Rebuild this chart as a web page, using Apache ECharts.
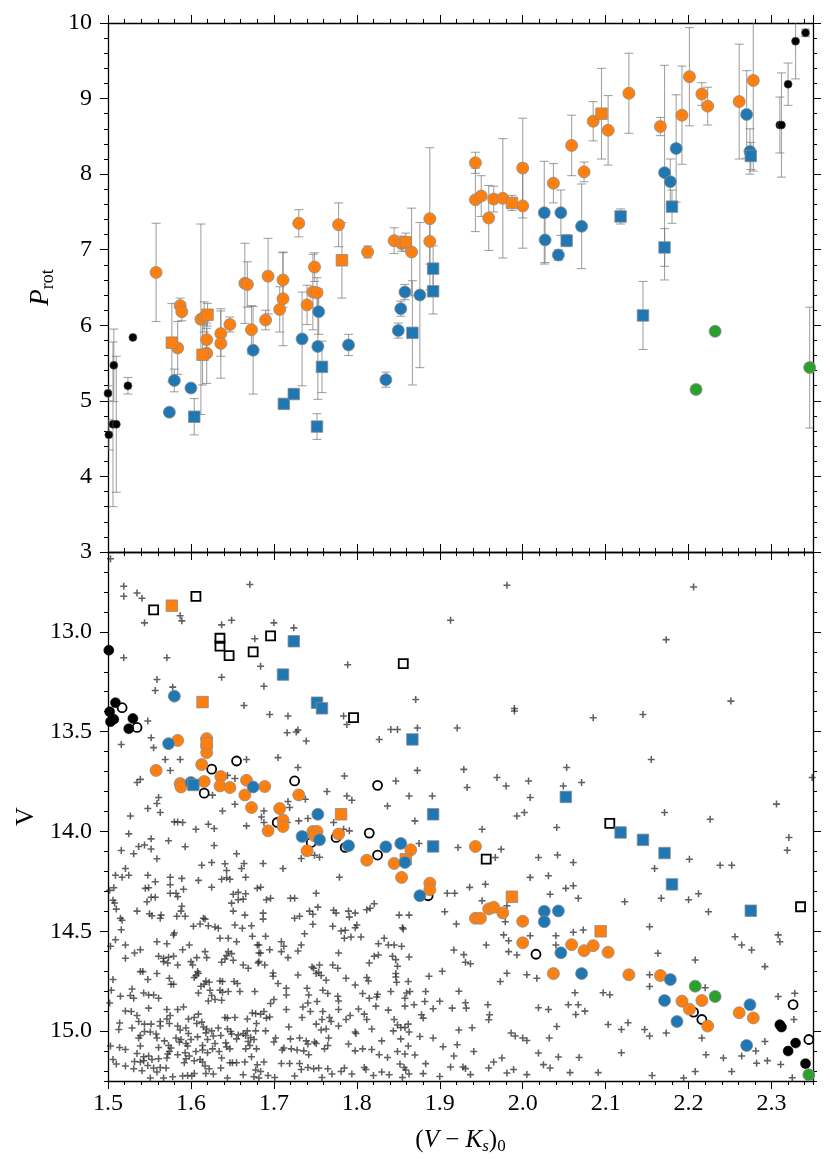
<!DOCTYPE html>
<html>
<head>
<meta charset="utf-8">
<script src="https://cdn.jsdelivr.net/npm/echarts@6/dist/echarts.min.js"></script>
<style>
html, body { margin: 0; padding: 0; background: #fff; }
#chart { width: 830px; height: 1163px; }
</style>
</head>
<body>
<div id="chart"></div>
<script>
// top panel: [V-Ks, Prot, error]
var topOrangeCirc = [
    [1.558,6.70,0.65],[1.584,5.70,0.35],[1.587,6.26,0.10],[1.589,6.18,0.12],[1.612,6.08,1.26],
    [1.616,6.11,0.20],[1.619,5.63,0.40],[1.619,5.81,0.15],[1.636,5.89,0.30],[1.636,5.76,0.46],
    [1.647,6.01,0.10],[1.665,6.555,0.53],[1.668,6.54,0.30],[1.673,5.94,0.32],[1.690,6.07,0.13],
    [1.693,6.65,0.50],[1.707,6.21,0.30],[1.711,6.35,0.62],[1.711,6.60,0.36],[1.730,7.35,0.18],
    [1.740,6.27,0.26],[1.747,6.44,0.50],[1.752,6.43,0.20],[1.749,6.77,0.19],[1.778,7.33,0.29],
    [1.813,6.97,0.08],[1.845,7.12,0.17],[1.854,7.08,0.10],[1.866,6.97,0.58],[1.888,7.41,0.94],
    [1.888,7.11,0.30],[1.943,8.15,0.14],[1.943,7.66,0.42],[1.950,7.71,0.27],[1.959,7.42,0.43],
    [1.965,7.67,0.17],[1.976,7.68,0.79],[2.000,8.08,0.66],[2.000,7.58,0.56],[2.037,7.88,0.26],
    [2.059,8.38,0.40],[2.074,8.03,0.13],[2.085,8.70,0.26],[2.103,8.58,0.46],[2.128,9.07,0.53],
    [2.166,8.63,0.12],[2.192,8.78,0.65],[2.201,9.29,0.65],[2.216,9.06,0.15],[2.223,8.90,0.25],
    [2.261,8.96,0.76],[2.278,9.24,1.20]
];
var topOrangeSq = [
    [1.577,5.77,0.52],[1.620,6.14,0.15],[1.614,5.61,0.40],[1.782,6.86,0.50],[1.859,7.10,0.12],
    [1.987,7.62,0.10],[2.095,8.80,0.60]
];
var topBlueCirc = [
    [1.574,4.85,0],[1.580,5.27,0.15],[1.600,5.17,0],[1.675,5.67,0.58],[1.734,5.82,0.62],
    [1.754,6.18,0.30],[1.753,5.72,0.70],[1.790,5.74,0.14],[1.835,5.28,0.10],[1.850,5.93,0.10],
    [1.853,6.22,0.10],[1.858,6.44,0.10],[1.876,6.40,0.96],[2.026,7.49,0.68],[2.027,7.13,0.30],
    [2.046,7.49,0.30],[2.043,6.93,0.07],[2.071,7.31,0.56],[2.171,8.02,1.42],[2.178,7.90,0.30],
    [2.185,8.34,0.71],[2.270,8.79,0.58],[2.274,8.30,0.30]
];
var topBlueSq = [
    [1.604,4.79,0.24],[1.712,4.96,0],[1.724,5.09,0],[1.752,4.66,0.17],[1.758,5.45,0.34],
    [1.867,5.90,0.69],[1.892,6.75,0.30],[1.892,6.45,0.30],[2.053,7.12,0.08],[2.118,7.44,0.10],
    [2.145,6.13,0.45],[2.171,7.03,0.25],[2.180,7.57,0.22],[2.275,8.24,0.18]
];
var topGreen = [[2.209,5.15,0.05],[2.232,5.92,0],[2.346,5.44,0.80]];
var topBlack = [
    [1.500,5.10,0.10],[1.501,4.55,0.20],[1.507,5.47,0.48],[1.506,4.69,1.09],[1.510,4.69,0.90],
    [1.524,5.20,0.11],[1.530,5.84,0],[2.310,8.65,0.37],[2.312,8.65,0.69],[2.320,9.19,0.28],
    [2.329,9.76,0.50],[2.341,9.87,0.05]
];

// bottom panel: [V-Ks, V]
var cmdOrangeCirc = [
    [1.584,13.544],[1.619,13.535],[1.619,13.569],[1.619,13.605],[1.558,13.694],[1.613,13.665],
    [1.587,13.760],[1.588,13.777],[1.616,13.750],[1.636,13.725],[1.635,13.772],[1.647,13.780],
    [1.667,13.744],[1.665,13.817],[1.689,13.775],[1.730,13.817],[1.673,13.880],[1.707,13.885],
    [1.711,13.942],[1.711,13.975],[1.693,13.997],[1.747,14.000],[1.752,14.000],[1.749,14.022],
    [1.740,14.097],[1.778,14.013],[1.812,14.144],[1.845,14.160],[1.865,14.092],[1.854,14.230],
    [1.943,14.075],[1.888,14.259],[1.888,14.292],[1.943,14.435],[1.949,14.435],[1.959,14.388],
    [1.965,14.380],[1.976,14.408],[2.000,14.450],[2.000,14.558],[2.059,14.567],[2.074,14.597],
    [2.085,14.572],[2.103,14.605],[2.037,14.712],[2.128,14.718],[2.166,14.722],[2.192,14.850],
    [2.216,14.847],[2.201,14.890],[2.223,14.975],[2.261,14.908],[2.278,14.934]
];
var cmdOrangeSq = [[1.577,12.869],[1.614,13.352],[1.619,13.558],[1.781,13.914],[1.859,14.139],[1.987,14.327],[2.094,14.500]];
var cmdBlueCirc = [
    [1.580,13.322],[1.573,13.560],[1.600,13.755],[1.675,13.777],[1.753,13.914],[1.734,14.025],
    [1.755,14.042],[1.790,14.072],[1.835,14.077],[1.853,14.060],[1.858,14.155],[1.876,14.322],
    [2.026,14.400],[2.026,14.452],[2.043,14.398],[2.046,14.608],[2.071,14.712],[2.178,14.742],
    [2.171,14.847],[2.186,14.952],[2.274,14.868],[2.270,15.072]
];
var cmdBlueSq = [
    [1.603,13.767],[1.724,13.047],[1.711,13.214],[1.752,13.355],[1.758,13.383],[1.867,13.539],
    [2.052,13.827],[1.892,13.914],[1.892,14.075],[2.118,14.005],[2.145,14.042],[2.171,14.108],
    [2.180,14.265],[2.275,14.397]
];
var cmdGreen = [[2.208,14.775],[2.232,14.827],[2.345,15.219]];
var cmdBlack = [
    [1.501,13.092],[1.509,13.355],[1.507,13.438],[1.502,13.400],[1.503,13.450],[1.530,13.434],
    [1.525,13.485],[2.310,14.968],[2.312,14.980],[2.329,15.060],[2.320,15.100],[2.341,15.163]
];
var cmdOpenCirc = [
    [1.517,13.380],[1.535,13.479],[1.625,13.688],[1.655,13.647],[1.616,13.808],[1.725,13.747],
    [1.825,13.769],[1.704,13.955],[1.745,14.055],[1.775,14.030],[1.786,14.080],[1.815,14.008],
    [1.825,14.118],[1.886,14.322],[2.016,14.615],[2.206,14.905],[2.216,14.942],[2.326,14.867],
    [2.345,15.042]
];
var cmdOpenSq = [
    [1.555,12.890],[1.606,12.822],[1.635,13.032],[1.635,13.072],[1.646,13.119],[1.675,13.100],
    [1.696,13.020],[1.856,13.159],[1.796,13.430],[1.956,14.139],[2.105,13.959],[2.335,14.377]
];
var fieldStars = [
    // upper part, V < 13.29
    [1.503,12.634],[1.519,12.772],[1.519,12.822],[1.535,12.805],[1.541,12.832],[1.544,12.955],[1.587,12.919],[1.589,12.945],
    [1.637,12.965],[1.649,12.942],[1.671,12.763],[1.700,12.955],[1.677,13.035],[1.724,12.980],[1.519,13.130],[1.571,13.130],
    [1.684,13.172],[1.789,13.165],[1.637,13.227],[1.559,13.239],[1.578,13.277],[1.688,13.272],[1.873,13.694],
    // right half
    [1.981,12.767],[2.206,12.775],[1.913,12.942],[2.173,13.039],[1.871,13.339],[1.990,13.384],[1.990,13.397],[2.251,13.347],
    [2.085,13.430],[2.145,13.414],[1.873,13.482],[1.921,13.482],[2.155,13.639],[1.929,13.689],[1.969,13.730],[1.980,13.772],
    [2.007,13.747],[2.053,13.680],[2.049,13.772],[2.071,13.755],[1.933,13.780],[1.891,13.822],[2.009,13.830],[2.349,13.730],
    [2.306,13.863],[2.171,13.905],[2.226,13.939],[1.993,13.922],[2.002,13.905],[1.870,13.947],[1.951,13.989],[2.041,13.980],
    [1.875,14.060],[1.922,14.080],[1.974,14.089],[1.967,14.130],[2.019,14.130],[2.042,14.118],[2.061,14.155],[2.159,14.185],
    [2.201,14.139],[2.238,14.169],[2.252,14.169],[2.319,14.094],[2.321,14.030],[2.009,14.230],[2.031,14.222],[1.955,14.264],
    [1.936,14.280],[1.909,14.310],[1.918,14.310],[2.052,14.285],[2.061,14.272],[2.033,14.314],[2.067,14.335],[2.123,14.352],
    [2.167,14.335],[2.212,14.312],[2.200,14.342],[2.224,14.402],[1.906,14.402],[1.951,14.347],[1.981,14.372],[1.979,14.452],
    [1.920,14.464],[2.153,14.477],[1.977,14.518],[1.983,14.547],[2.009,14.522],[2.040,14.522],[2.040,14.569],[2.061,14.505],
    [2.073,14.494],[1.917,14.594],[1.929,14.617],[1.931,14.655],[1.937,14.663],[1.956,14.569],[1.983,14.602],[1.993,14.619],
    [1.973,14.752],[1.981,14.710],[2.005,14.718],[2.017,14.735],[2.063,14.808],[2.097,14.808],[2.105,14.818],[2.153,14.718],
    [2.153,14.777],[2.163,14.610],[2.208,14.644],[2.220,14.783],[2.256,14.527],[2.264,14.569],[2.276,14.594],[2.292,14.677],
    [2.308,14.518],[2.310,14.552],[2.308,14.827],[2.328,14.810],[2.327,14.942],[1.864,14.802],[1.883,14.802],[1.882,14.852],
    [1.869,14.868],[1.900,14.850],[1.915,14.885],[1.931,14.858],[1.932,14.885],[1.958,14.868],[1.960,14.918],[1.959,14.943],
    [1.923,14.800],[1.939,14.983],[1.923,14.994],[1.903,14.700],[1.887,14.725],[1.878,14.918],[1.880,14.935],[1.892,14.888],
    [1.986,15.010],[1.991,15.025],[2.000,15.035],[2.005,15.047],[2.019,14.883],[2.031,14.892],[2.041,14.977],[2.032,15.035],
    [2.055,14.868],[2.064,14.917],[2.067,14.868],[2.075,14.900],[2.103,14.967],[2.119,14.992],[2.127,14.958],[2.147,14.992],
    [2.153,15.025],[2.173,15.010],[2.216,15.035],[2.221,15.119],[2.242,15.135],[2.264,15.125],[2.281,15.100],[2.292,15.052],
    [2.282,15.161],[2.295,15.148],[2.311,15.167],[2.252,15.202],[2.325,15.234],[1.876,15.027],[1.870,15.120],[1.892,15.035],
    [1.904,15.078],[1.921,15.068],[1.941,15.102],[1.928,15.180],[1.931,15.188],[1.937,15.218],[1.913,15.180],[1.959,15.185],
    [1.965,15.155],[1.975,15.135],[1.981,15.210],[1.989,15.192],[2.005,15.218],[2.019,15.110],[2.025,15.168],[2.033,15.185],
    [2.043,15.130],[2.057,15.208],[2.068,15.132],[2.091,15.208],[2.119,15.108],[2.156,15.222],[2.194,15.235],[2.208,15.202],
    [1.880,15.213],[1.900,15.227],[1.917,15.125],[1.883,15.163],
    // left, 13.29 < V < 14.0
    [1.557,13.294],[1.664,13.369],[1.695,13.414],[1.717,13.422],[1.548,13.447],[1.716,13.505],[1.727,13.502],[1.729,13.492],
    [1.739,13.547],[1.552,13.530],[1.516,13.564],[1.555,13.580],[1.569,13.639],[1.587,13.639],[1.575,13.695],[1.667,13.639],
    [1.705,13.630],[1.729,13.680],[1.785,13.722],[1.539,13.739],[1.535,13.755],[1.644,13.719],[1.653,13.735],[1.561,13.830],
    [1.626,13.818],[1.548,13.885],[1.559,13.860],[1.563,13.905],[1.527,13.922],[1.638,13.897],[1.653,13.864],[1.688,13.897],
    [1.685,13.927],[1.717,13.850],[1.719,13.880],[1.738,13.839],[1.764,13.800],[1.788,13.822],[1.794,13.844],[1.847,13.747],
    [1.841,13.489],[1.849,13.489],[1.827,13.539],[1.784,13.422],[1.788,13.464],[1.837,13.872],[1.863,13.822],[1.580,13.952],
    [1.584,13.952],[1.590,13.955],[1.606,13.989],[1.621,13.964],[1.628,13.985],[1.667,13.972],[1.688,13.955],[1.716,13.955],
    [1.730,13.947],[1.741,13.935],[1.772,13.955],[1.784,13.989],[1.791,13.997],
    // lower left, V > 14.0, x < 1.68
    [1.525,14.012],[1.552,14.037],[1.573,14.047],[1.628,14.070],[1.593,14.077],[1.516,14.095],[1.537,14.075],[1.544,14.068],
    [1.552,14.088],[1.531,14.112],[1.559,14.137],[1.655,14.112],[1.613,14.169],[1.625,14.155],[1.641,14.162],[1.664,14.160],
    [1.661,14.185],[1.643,14.195],[1.521,14.185],[1.509,14.219],[1.517,14.229],[1.525,14.219],[1.548,14.219],[1.575,14.229],
    [1.589,14.235],[1.609,14.245],[1.637,14.239],[1.643,14.232],[1.647,14.239],[1.666,14.229],[1.557,14.252],[1.502,14.295],
    [1.507,14.282],[1.545,14.285],[1.549,14.282],[1.575,14.267],[1.591,14.289],[1.625,14.279],[1.575,14.309],[1.582,14.309],
    [1.584,14.327],[1.552,14.329],[1.557,14.329],[1.547,14.352],[1.506,14.345],[1.508,14.358],[1.651,14.315],[1.657,14.305],
    [1.666,14.312],[1.657,14.342],[1.663,14.339],[1.680,14.285],[1.589,14.375],[1.588,14.399],[1.583,14.425],[1.593,14.425],
    [1.510,14.389],[1.535,14.399],[1.550,14.412],[1.553,14.422],[1.564,14.419],[1.563,14.435],[1.515,14.435],[1.517,14.445],
    [1.649,14.359],[1.651,14.399],[1.665,14.419],[1.615,14.435],[1.617,14.439],[1.603,14.475],[1.611,14.464],[1.621,14.472],
    [1.629,14.479],[1.633,14.485],[1.653,14.469],[1.662,14.485],[1.673,14.472],[1.516,14.492],[1.509,14.542],[1.580,14.509],
    [1.579,14.519],[1.559,14.552],[1.571,14.562],[1.598,14.569],[1.590,14.592],[1.635,14.535],[1.645,14.535],[1.655,14.552],
    [1.674,14.525],[1.521,14.569],[1.503,14.575],[1.680,14.569],[1.532,14.609],[1.539,14.592],[1.521,14.635],[1.561,14.625],
    [1.567,14.635],[1.573,14.630],[1.579,14.625],[1.567,14.652],[1.572,14.659],[1.584,14.669],[1.600,14.652],[1.607,14.632],
    [1.617,14.602],[1.619,14.632],[1.602,14.669],[1.637,14.655],[1.641,14.639],[1.645,14.602],[1.649,14.612],[1.651,14.645],
    [1.643,14.622],[1.663,14.669],[1.669,14.685],[1.682,14.609],[1.682,14.652],[1.539,14.702],[1.542,14.702],[1.559,14.712],
    [1.608,14.702],[1.609,14.712],[1.606,14.722],[1.604,14.732],[1.574,14.735],[1.506,14.742],[1.576,14.765],[1.579,14.765],
    [1.548,14.742],[1.635,14.749],[1.652,14.752],[1.656,14.762],[1.618,14.749],[1.622,14.755],[1.616,14.765],[1.612,14.775],
    [1.638,14.752],[1.504,14.795],[1.529,14.789],[1.527,14.822],[1.531,14.835],[1.515,14.825],[1.543,14.809],[1.549,14.819],
    [1.555,14.819],[1.561,14.835],[1.609,14.809],[1.623,14.795],[1.625,14.822],[1.629,14.842],[1.635,14.795],[1.638,14.805],
    [1.645,14.802],[1.659,14.802],[1.677,14.802],[1.621,14.849],[1.637,14.845],[1.502,14.859],[1.521,14.899],[1.528,14.902],
    [1.535,14.922],[1.549,14.885],[1.571,14.892],[1.584,14.892],[1.591,14.879],[1.575,14.922],[1.597,14.939],[1.604,14.932],
    [1.609,14.915],[1.641,14.932],[1.644,14.935],[1.653,14.932],[1.674,14.909],[1.678,14.912],[1.668,14.939],[1.514,14.959],
    [1.513,14.992],[1.529,14.985],[1.537,14.952],[1.544,14.965],[1.552,14.965],[1.563,14.952],[1.571,14.939],[1.574,14.962],
    [1.563,14.975],[1.584,14.975],[1.587,14.995],[1.594,14.985],[1.597,15.012],[1.607,14.962],[1.613,14.955],[1.615,14.979],
    [1.619,14.989],[1.625,14.999],[1.618,15.009],[1.627,15.025],[1.633,14.985],[1.644,14.989],[1.648,15.002],[1.649,15.015],
    [1.657,15.019],[1.663,15.012],[1.668,14.999],[1.666,15.022],[1.672,15.032],[1.678,14.999],[1.679,14.962],[1.544,15.002],
    [1.551,15.005],[1.537,15.035],[1.539,15.022],[1.558,15.015],[1.503,15.075],[1.514,15.082],[1.521,15.092],[1.539,15.075],
    [1.559,15.035],[1.561,15.082],[1.568,15.049],[1.573,15.072],[1.576,15.085],[1.582,15.035],[1.586,15.055],[1.588,15.042],
    [1.594,15.062],[1.596,15.075],[1.600,15.042],[1.608,15.029],[1.614,15.072],[1.620,15.042],[1.629,15.062],[1.636,15.022],
    [1.642,15.059],[1.643,15.079],[1.647,15.089],[1.655,15.039],[1.669,15.052],[1.671,15.072],[1.676,15.042],[1.679,15.089],
    [1.535,15.112],[1.543,15.129],[1.549,15.125],[1.572,15.115],[1.574,15.102],[1.584,15.119],[1.593,15.109],[1.594,15.139],
    [1.598,15.125],[1.606,15.102],[1.614,15.095],[1.620,15.109],[1.626,15.089],[1.634,15.102],[1.666,15.089],[1.673,15.129],
    [1.506,15.142],[1.510,15.165],[1.521,15.175],[1.532,15.152],[1.539,15.155],[1.543,15.149],[1.553,15.142],[1.561,15.139],
    [1.571,15.135],[1.548,15.172],[1.555,15.185],[1.563,15.182],[1.570,15.185],[1.531,15.189],[1.541,15.199],[1.559,15.205],
    [1.592,15.159],[1.604,15.149],[1.611,15.142],[1.614,15.155],[1.617,15.175],[1.622,15.189],[1.627,15.215],[1.637,15.135],
    [1.636,15.185],[1.647,15.159],[1.650,15.159],[1.655,15.159],[1.665,15.155],[1.680,15.169],[1.678,15.195],[1.578,15.229],
    [1.596,15.222],[1.601,15.225],[1.604,15.212],[1.618,15.212],[1.590,15.225],[1.663,15.219],[1.676,15.229],[1.644,15.235],
    [1.551,15.235],[1.567,15.235],
    // lower middle, V > 14.0, 1.68 < x < 1.864
    [1.687,14.160],[1.711,14.185],[1.733,14.135],[1.749,14.119],[1.755,14.129],[1.779,14.229],[1.684,14.279],[1.691,14.342],
    [1.696,14.335],[1.720,14.335],[1.725,14.335],[1.751,14.309],[1.753,14.379],[1.743,14.399],[1.687,14.409],[1.687,14.439],
    [1.725,14.435],[1.731,14.425],[1.747,14.415],[1.747,14.465],[1.772,14.395],[1.775,14.409],[1.790,14.399],[1.798,14.409],
    [1.791,14.429],[1.812,14.392],[1.816,14.385],[1.821,14.362],[1.851,14.419],[1.863,14.419],[1.690,14.525],[1.682,14.569],
    [1.695,14.592],[1.709,14.552],[1.712,14.575],[1.709,14.602],[1.717,14.632],[1.733,14.569],[1.737,14.512],[1.729,14.599],
    [1.771,14.475],[1.781,14.499],[1.786,14.495],[1.785,14.535],[1.793,14.529],[1.798,14.482],[1.800,14.469],[1.805,14.529],
    [1.833,14.535],[1.826,14.562],[1.838,14.569],[1.845,14.569],[1.854,14.575],[1.855,14.482],[1.856,14.489],[1.684,14.609],
    [1.681,14.659],[1.689,14.669],[1.778,14.609],[1.815,14.659],[1.821,14.625],[1.826,14.619],[1.843,14.625],[1.847,14.642],
    [1.849,14.675],[1.863,14.629],[1.746,14.679],[1.755,14.669],[1.771,14.669],[1.777,14.685],[1.699,14.709],[1.699,14.725],
    [1.729,14.719],[1.748,14.685],[1.751,14.712],[1.754,14.705],[1.757,14.722],[1.763,14.745],[1.787,14.735],[1.798,14.769],
    [1.812,14.732],[1.814,14.749],[1.847,14.712],[1.847,14.729],[1.848,14.755],[1.862,14.752],[1.705,14.762],[1.715,14.785],
    [1.715,14.819],[1.742,14.819],[1.740,14.785],[1.759,14.795],[1.765,14.812],[1.777,14.825],[1.807,14.812],[1.815,14.835],
    [1.824,14.829],[1.825,14.815],[1.841,14.802],[1.858,14.835],[1.860,14.809],[1.700,14.842],[1.696,14.862],[1.741,14.859],
    [1.735,14.879],[1.744,14.902],[1.752,14.852],[1.778,14.849],[1.778,14.892],[1.759,14.902],[1.802,14.889],[1.809,14.915],
    [1.823,14.875],[1.838,14.895],[1.858,14.875],[1.684,14.915],[1.688,14.902],[1.691,14.935],[1.695,14.929],[1.715,14.892],
    [1.734,14.932],[1.758,14.942],[1.767,14.932],[1.769,14.952],[1.787,14.942],[1.792,14.922],[1.812,14.942],[1.845,14.942],
    [1.849,14.969],[1.853,14.982],[1.858,14.982],[1.862,14.965],[1.718,14.979],[1.751,14.965],[1.757,14.995],[1.763,14.989],
    [1.778,14.975],[1.690,14.999],[1.798,15.005],[1.799,15.012],[1.818,14.989],[1.844,14.999],[1.863,15.005],[1.702,15.035],
    [1.700,15.055],[1.720,15.039],[1.731,15.035],[1.739,15.049],[1.741,15.065],[1.749,15.055],[1.751,15.062],[1.766,15.035],
    [1.790,15.065],[1.830,15.049],[1.853,15.039],[1.712,15.085],[1.710,15.095],[1.721,15.089],[1.728,15.095],[1.742,15.119],
    [1.736,15.099],[1.761,15.089],[1.765,15.072],[1.798,15.099],[1.807,15.089],[1.818,15.092],[1.827,15.119],[1.837,15.132],
    [1.849,15.102],[1.858,15.115],[1.862,15.075],[1.688,15.155],[1.709,15.162],[1.719,15.162],[1.731,15.162],[1.733,15.192],
    [1.684,15.202],[1.693,15.222],[1.701,15.232],[1.725,15.225],[1.741,15.182],[1.748,15.189],[1.754,15.185],[1.758,15.232],
    [1.765,15.189],[1.770,15.215],[1.781,15.202],[1.785,15.185],[1.794,15.215],[1.809,15.182],[1.811,15.192],[1.820,15.222],
    [1.830,15.205],[1.839,15.219],[1.852,15.165],[1.857,15.182],[1.859,15.195],[1.855,15.232],[1.863,15.215],[1.682,15.235]
];

var vMajorTicks = [13.0, 13.5, 14.0, 14.5, 15.0];

var C_ORANGE = '#ff7f0e', C_BLUE = '#1f77b4', C_GREEN = '#2ca02c';
var FONT = 'Liberation Serif';
var ERR_COLOR = 'rgba(115,115,115,0.65)';
var PLUS = 'path://M3.9,0H6.1V3.9H10V6.1H6.1V10H3.9V6.1H0V3.9H3.9Z';

var GRID_LEFT = 108, GRID_RIGHT = 17;

function renderErrorBar(params, api) {
    var x = api.value(0), y = api.value(1), e = api.value(2);
    var hi = api.coord([x, y + e]);
    var lo = api.coord([x, y - e]);
    var w = 4.5;
    var style = { stroke: ERR_COLOR, lineWidth: 1.1, fill: null };
    return {
        type: 'group',
        children: [
            { type: 'line', shape: { x1: hi[0], y1: hi[1], x2: lo[0], y2: lo[1] }, style: style },
            { type: 'line', shape: { x1: hi[0] - w, y1: hi[1], x2: hi[0] + w, y2: hi[1] }, style: style },
            { type: 'line', shape: { x1: lo[0] - w, y1: lo[1], x2: lo[0] + w, y2: lo[1] }, style: style }
        ]
    };
}

function errSeries(data) {
    return {
        type: 'custom', xAxisIndex: 0, yAxisIndex: 0, z: 2, clip: true,
        renderItem: renderErrorBar,
        encode: { x: 0, y: 1 },
        data: data.filter(function (d) { return d[2] > 0; })
    };
}

function dots(data, panel, symbol, size, color, border, bw, z) {
    var idx = panel == 0 ? 0 : 4;
    return {
        type: 'scatter', xAxisIndex: idx, yAxisIndex: idx, z: z || 5,
        symbol: symbol, symbolSize: size, data: data,
        itemStyle: { color: color, borderColor: border, borderWidth: bw, opacity: 1 }
    };
}

function xAxisDef(grid, pos, minor, labels) {
    var a = {
        type: 'value', gridIndex: grid, position: pos, min: 1.5, max: 2.35,
        interval: minor ? 0.02 : 0.1,
        axisLine: { show: !minor, onZero: false, lineStyle: { color: '#000', width: 1.3 } },
        axisTick: { show: true, length: minor ? 4 : 8, lineStyle: { color: '#000', width: 1 } },
        axisLabel: {
            show: !!labels, margin: 11, color: '#000', fontFamily: FONT, fontSize: 24,
            showMaxLabel: false,
            formatter: function (v) { return v.toFixed(1); }
        },
        splitLine: { show: false }
    };
    if (labels) {
        a.name = '{r|(}{i|V}{r| − }{i|K}{is|s}{r|)}{s|0}';
        a.nameLocation = 'middle';
        a.nameGap = 44;
        a.nameTextStyle = {
            color: '#000',
            rich: {
                r: { fontFamily: FONT, fontSize: 25, lineHeight: 30, verticalAlign: 'middle' },
                i: { fontFamily: FONT, fontSize: 25, fontStyle: 'italic', lineHeight: 30, verticalAlign: 'middle' },
                is: { fontFamily: FONT, fontSize: 17, fontStyle: 'italic', lineHeight: 17, verticalAlign: 'bottom' },
                s: { fontFamily: FONT, fontSize: 17, lineHeight: 17, verticalAlign: 'bottom' }
            }
        };
    }
    return a;
}

function yTopDef(pos, minor, labels) {
    var a = {
        type: 'value', gridIndex: 0, position: pos, min: 3, max: 10,
        interval: minor ? 0.2 : 1,
        axisLine: { show: !minor, onZero: false, lineStyle: { color: '#000', width: 1.3 } },
        axisTick: { show: true, length: minor ? 4 : 8, lineStyle: { color: '#000', width: 1 } },
        axisLabel: { show: !!labels, margin: 16, color: '#000', fontFamily: FONT, fontSize: 24 },
        splitLine: { show: false }
    };
    if (labels) {
        a.name = '{p|P}{s|rot}';
        a.nameLocation = 'middle';
        a.nameGap = 46;
        a.nameRotate = 90;
        a.nameTextStyle = {
            color: '#000',
            rich: {
                p: { fontFamily: FONT, fontSize: 27, fontStyle: 'italic', lineHeight: 32, verticalAlign: 'middle' },
                s: { fontFamily: FONT, fontSize: 18, lineHeight: 18, verticalAlign: 'bottom' }
            }
        };
    }
    return a;
}

function yBotDef(pos, minor, labels) {
    var a = {
        type: 'value', gridIndex: 1, position: pos, min: 12.6, max: 15.25, inverse: true,
        axisLine: { show: !minor, onZero: false, lineStyle: { color: '#000', width: 1.3 } },
        axisTick: { show: true, length: minor ? 4 : 8, lineStyle: { color: '#000', width: 1 } },
        axisLabel: {
            show: !!labels, margin: 16, color: '#000', fontFamily: FONT, fontSize: 24,
            formatter: function (v) { return v.toFixed(1); }
        },
        splitLine: { show: false }
    };
    if (minor) {
        a.interval = 0.1;
    } else {
        a.axisTick.customValues = vMajorTicks;
        a.axisLabel.customValues = vMajorTicks;
    }
    if (labels) {
        a.name = 'V';
        a.nameLocation = 'middle';
        a.nameGap = 67;
        a.nameRotate = 90;
        a.nameTextStyle = { color: '#000', fontFamily: FONT, fontSize: 26 };
    }
    return a;
}

var chart = echarts.init(document.getElementById('chart'), null, { renderer: 'canvas' });

var option = {
    animation: false,
    backgroundColor: '#fff',
    textStyle: { fontFamily: FONT },
    grid: [
        { left: GRID_LEFT, right: GRID_RIGHT, top: 23, height: 529 },
        { left: GRID_LEFT, right: GRID_RIGHT, top: 552, height: 529 }
    ],
    xAxis: [
        xAxisDef(0, 'bottom', false, false),
        xAxisDef(0, 'bottom', true, false),
        xAxisDef(0, 'top', false, false),
        xAxisDef(0, 'top', true, false),
        xAxisDef(1, 'bottom', false, true),
        xAxisDef(1, 'bottom', true, false),
        xAxisDef(1, 'top', false, false),
        xAxisDef(1, 'top', true, false)
    ],
    yAxis: [
        yTopDef('left', false, true),
        yTopDef('left', true, false),
        yTopDef('right', false, false),
        yTopDef('right', true, false),
        yBotDef('left', false, true),
        yBotDef('left', true, false),
        yBotDef('right', false, false),
        yBotDef('right', true, false)
    ],
    series: [
        errSeries(topOrangeCirc),
        errSeries(topOrangeSq),
        errSeries(topBlueCirc),
        errSeries(topBlueSq),
        errSeries(topGreen),
        errSeries(topBlack),
        dots(topOrangeCirc, 0, 'circle', 12, C_ORANGE, '#8c8c8c', 0.8),
        dots(topOrangeSq, 0, 'rect', 11.5, C_ORANGE, '#8c8c8c', 0.8),
        dots(topBlueCirc, 0, 'circle', 12, C_BLUE, '#8c8c8c', 0.8),
        dots(topBlueSq, 0, 'rect', 11.5, C_BLUE, '#8c8c8c', 0.8),
        dots(topGreen, 0, 'circle', 12, C_GREEN, '#8c8c8c', 0.8),
        dots(topBlack, 0, 'circle', 8, '#000', '#555', 0.6),

        dots(fieldStars, 1, PLUS, 7, 'rgba(35,35,35,0.72)', 'none', 0, 2),
        dots(cmdOpenSq, 1, 'rect', 9, 'rgba(255,255,255,0)', '#000', 1.8, 4),
        dots(cmdOpenCirc, 1, 'circle', 9, 'rgba(255,255,255,0)', '#000', 1.8, 4),
        dots(cmdBlack, 1, 'circle', 10, '#000', '#000', 0.5, 4),
        dots(cmdOrangeCirc, 1, 'circle', 12, C_ORANGE, '#8c8c8c', 0.8),
        dots(cmdOrangeSq, 1, 'rect', 11.5, C_ORANGE, '#8c8c8c', 0.8),
        dots(cmdBlueCirc, 1, 'circle', 12, C_BLUE, '#8c8c8c', 0.8),
        dots(cmdBlueSq, 1, 'rect', 11.5, C_BLUE, '#8c8c8c', 0.8),
        dots(cmdGreen, 1, 'circle', 12, C_GREEN, '#8c8c8c', 0.8)
    ]
};

chart.setOption(option);
</script>
</body>
</html>
